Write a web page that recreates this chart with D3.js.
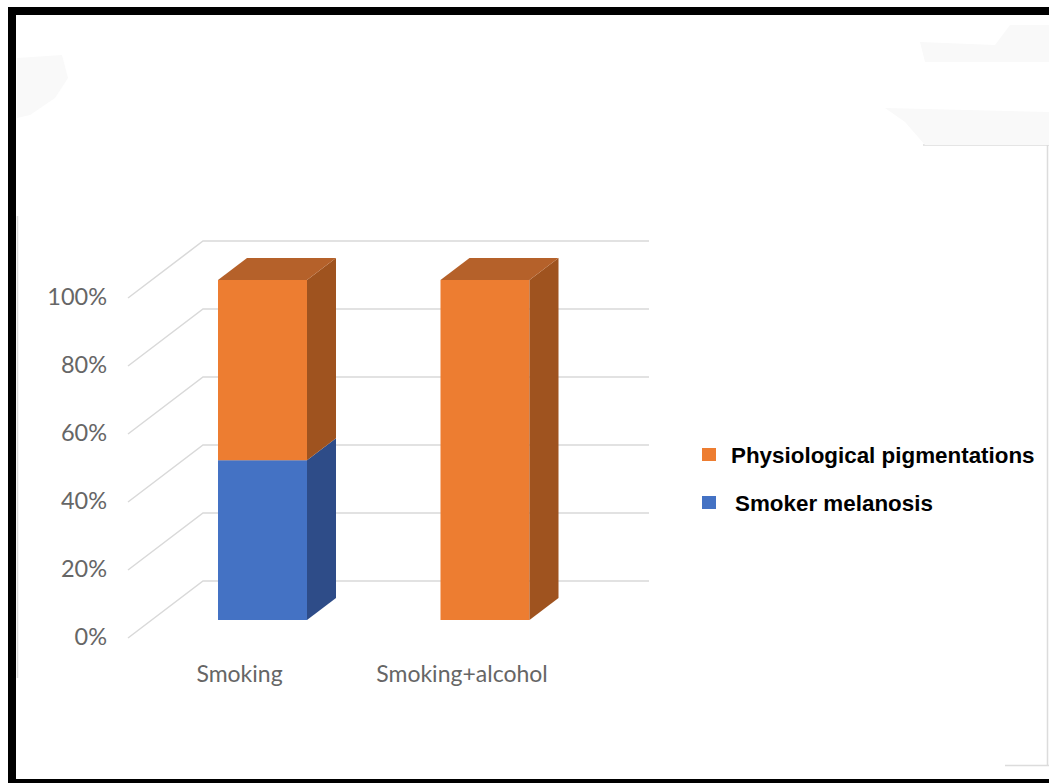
<!DOCTYPE html>
<html>
<head>
<meta charset="utf-8">
<script src="https://cdn.jsdelivr.net/npm/d3@7"></script>
<style>
  html, body { margin: 0; padding: 0; background: #fff; }
  svg { display: block; }
</style>
</head>
<body>
<svg id="chart" width="1049" height="783"></svg>
<script>
// ---- data ----
const categories = ["Smoking", "Smoking+alcohol"];
const seriesNames = ["Smoker melanosis", "Physiological pigmentations"];
const smokerMelanosis = [0.47, 0.0];
const physiologicalPigmentations = [0.53, 1.0];
const tickValues = [0, 0.2, 0.4, 0.6, 0.8, 1.0];
const tickLabels = ["0%", "20%", "40%", "60%", "80%", "100%"];
const legendOrder = ["Physiological pigmentations", "Smoker melanosis"];

const colors = {
  "Smoker melanosis": { front: "#4472C4", side: "#2E4C88", top: "#35599E" },
  "Physiological pigmentations": { front: "#ED7D31", side: "#9F531F", top: "#B5612A" }
};

const svg = d3.select("#chart");

// ---- frame & decorations ----
svg.append("rect").attr("x", 0).attr("y", 0).attr("width", 1049).attr("height", 783).attr("fill", "#fff");
const deco = svg.append("g").attr("stroke", "#dcdcdc").attr("stroke-width", 1.5).attr("fill", "none");
deco.append("line").attr("x1", 17.5).attr("y1", 216).attr("x2", 17.5).attr("y2", 678);
deco.append("line").attr("x1", 923).attr("y1", 145).attr("x2", 1049).attr("y2", 145);
deco.append("line").attr("x1", 1047.5).attr("y1", 145).attr("x2", 1047.5).attr("y2", 765);
deco.append("line").attr("x1", 1005).attr("y1", 765.5).attr("x2", 1049).attr("y2", 765.5);
const smudge = svg.append("g").attr("fill", "#f9f9f9");
smudge.append("path").attr("d", "M17,58 L62,55 L68,78 L55,98 L30,115 L17,118 Z");
smudge.append("path").attr("d", "M920,42 L995,45 L1010,25 L1049,25 L1049,62 L925,62 Z");
smudge.append("path").attr("d", "M885,108 L1049,112 L1049,145 L925,145 L905,122 Z");

svg.append("rect").attr("x", 8).attr("y", 7).attr("width", 1041).attr("height", 8).attr("fill", "#000");
svg.append("rect").attr("x", 8).attr("y", 7).attr("width", 8).attr("height", 776).attr("fill", "#000");
svg.append("rect").attr("x", 8).attr("y", 779).attr("width", 1041).attr("height", 4).attr("fill", "#000");

// ---- scales ----
const yBar = d3.scaleLinear().domain([0, 1]).range([620, 280]);   // bar front faces
const yWall = d3.scaleLinear().domain([0, 1]).range([581, 241]);  // back wall
const wallLeft = 203, wallRight = 649;
const floorDx = -75, floorDy = 57;   // back wall -> front edge
const depthDx = 29, depthDy = -22;   // bar front -> bar back

const x = d3.scaleBand().domain(categories).range([151.25, 596.25])
  .paddingInner(0.6).paddingOuter(0.3);

// ---- gridlines ----
const grid = svg.append("g").attr("stroke", "#d9d9d9").attr("stroke-width", 1.5).attr("fill", "none");
grid.selectAll("path").data(tickValues).join("path")
  .attr("d", v => `M${wallLeft + floorDx},${yWall(v) + floorDy} L${wallLeft},${yWall(v)} L${wallRight},${yWall(v)}`);

// ---- y tick labels ----
svg.append("g").selectAll("text").data(tickValues).join("text")
  .attr("x", 107).attr("y", v => yWall(v) + floorDy + 1)
  .attr("text-anchor", "end").attr("dominant-baseline", "middle")
  .attr("font-family", "Lato, 'Open Sans', sans-serif").attr("font-size", 23.5)
  .attr("fill", "#666")
  .text((v, i) => tickLabels[i]);

// ---- stacked data ----
const rows = categories.map((c, i) => ({
  cat: c,
  "Smoker melanosis": smokerMelanosis[i],
  "Physiological pigmentations": physiologicalPigmentations[i]
}));
const stacked = d3.stack().keys(seriesNames)(rows);

const bars = svg.append("g");
categories.forEach((c, ci) => {
  const x0 = x(c), x1 = x(c) + x.bandwidth();
  const segs = stacked.map(s => ({ key: s.key, y0: s[ci][0], y1: s[ci][1] })).filter(d => d.y1 - d.y0 > 0);
  const topIdx = segs.length - 1;
  segs.forEach((d, si) => {
    const col = colors[d.key];
    const yb = yBar(d.y0), yt = yBar(d.y1);
    // front
    bars.append("rect").attr("x", x0).attr("y", yt).attr("width", x1 - x0).attr("height", yb - yt).attr("fill", col.front);
    // side
    bars.append("path").attr("fill", col.side)
      .attr("d", `M${x1},${yt} L${x1 + depthDx},${yt + depthDy} L${x1 + depthDx},${yb + depthDy} L${x1},${yb} Z`);
    if (si === topIdx) {
      bars.append("path").attr("fill", col.top)
        .attr("d", `M${x0},${yt} L${x1},${yt} L${x1 + depthDx},${yt + depthDy} L${x0 + depthDx},${yt + depthDy} Z`);
    }
  });
});

// ---- category labels ----
svg.append("g").selectAll("text").data(categories).join("text")
  .attr("x", c => x(c) + x.bandwidth() / 2 - 23).attr("y", 682)
  .attr("text-anchor", "middle")
  .attr("font-family", "Lato, 'Open Sans', sans-serif").attr("font-size", 23)
  .attr("fill", "#666")
  .text(c => c);

// ---- legend ----
const legendY = { "Physiological pigmentations": 455, "Smoker melanosis": 503 };
const legendTextX = { "Physiological pigmentations": 731, "Smoker melanosis": 735 };
const lg = svg.append("g");
legendOrder.forEach(name => {
  lg.append("rect").attr("x", 702).attr("y", legendY[name] - 7).attr("width", 14).attr("height", 13)
    .attr("fill", colors[name].front);
  lg.append("text").attr("x", legendTextX[name]).attr("y", legendY[name] + 8)
    .attr("font-family", "'Liberation Sans', Arial, sans-serif").attr("font-weight", "bold")
    .attr("font-size", 22.4).attr("fill", "#000")
    .text(name);
});
</script>
</body>
</html>
